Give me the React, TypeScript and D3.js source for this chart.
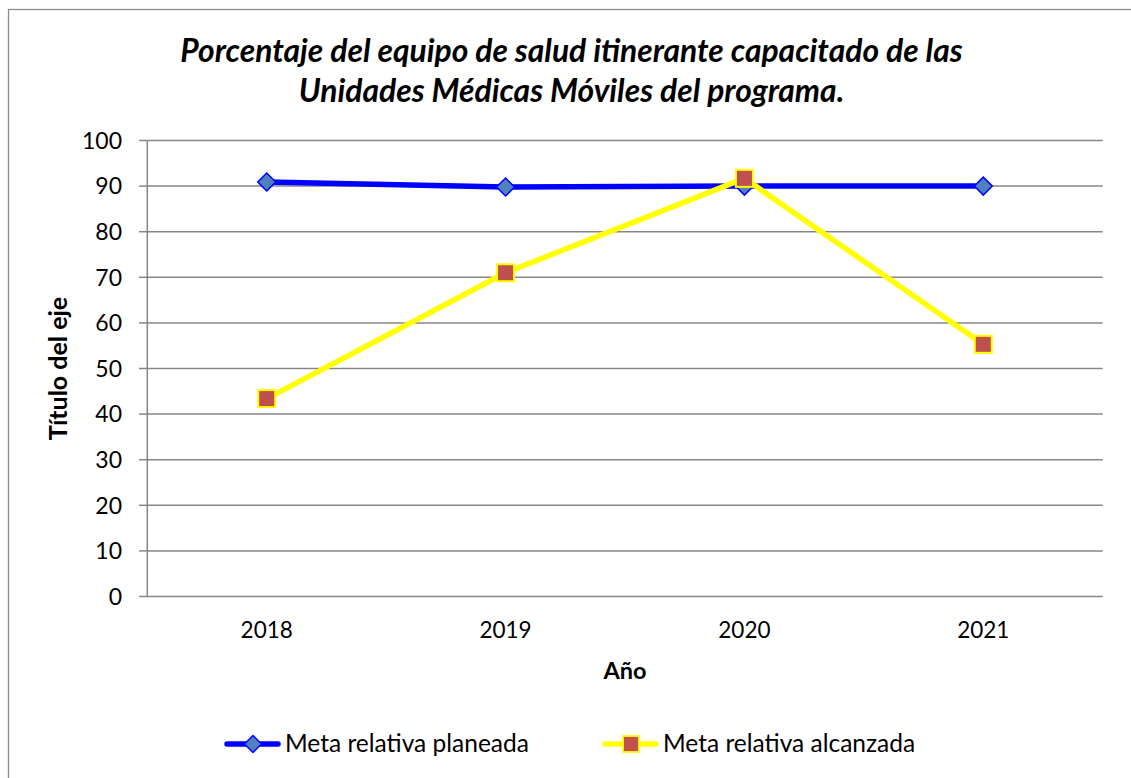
import React from "react";
import * as d3 from "d3";

const categories = ["2018", "2019", "2020", "2021"];
const planeada = [90.9, 89.8, 90.0, 90.0];
const alcanzada = [43.4, 71.0, 91.7, 55.3];
const yTicks = [0, 10, 20, 30, 40, 50, 60, 70, 80, 90, 100];
const titleLines = [
  "Porcentaje del equipo de salud itinerante capacitado de las",
  "Unidades Médicas Móviles del programa.",
];
const seriesNames = ["Meta relativa planeada", "Meta relativa alcanzada"];

const W = 1131;
const H = 778;
const FONT = "Lato, 'Open Sans', sans-serif";

export default function App() {
  const left = 147.3;
  const right = 1102.7;
  const top = 140.5;
  const bottom = 596.5;

  const x = d3.scaleBand<string>().domain(categories).range([left, right]).padding(0);
  const y = d3.scaleLinear().domain([0, 100]).range([bottom, top]);
  const cx = (c: string) => (x(c) as number) + x.bandwidth() / 2;

  const line = d3
    .line<number>()
    .x((_, i) => cx(categories[i]))
    .y((d) => y(d));

  const diamond = (px: number, py: number, r: number) =>
    `M${px},${py - r}L${px + r},${py}L${px},${py + r}L${px - r},${py}Z`;

  const gridColor = "#868686";

  return (
    <div style={{ position: "absolute", left: 0, top: 0 }}>
      <svg width={W} height={H} style={{ display: "block", background: "#fff" }}>
        <rect x={8.5} y={9.5} width={W + 20} height={H + 20} fill="#fff" stroke="#8c8c8c" strokeWidth={1.3} />
        {/* title */}
        {titleLines.map((t, i) => (
          <text
            key={i}
            x={571.5}
            y={62 + i * 40}
            textAnchor="middle"
            fontFamily={FONT}
            fontWeight="bold"
            fontStyle="italic"
            fontSize={31.8}
            fill="#000"
          >
            {t}
          </text>
        ))}
        {/* gridlines */}
        {yTicks.map((t) => (
          <g key={t}>
            <line x1={left} x2={right} y1={y(t)} y2={y(t)} stroke={gridColor} strokeWidth={1.5} />
            <line x1={139} x2={left} y1={y(t)} y2={y(t)} stroke={gridColor} strokeWidth={1.5} />
            <text
              x={122}
              y={y(t)}
              dy="0.36em"
              textAnchor="end"
              fontFamily={FONT}
              fontSize={23}
              fill="#000"
            >
              {t}
            </text>
          </g>
        ))}
        <line x1={left} x2={left} y1={top} y2={bottom} stroke={gridColor} strokeWidth={1.5} />
        {/* x labels */}
        {categories.map((c) => (
          <text key={c} x={cx(c)} y={638} textAnchor="middle" fontFamily={FONT} fontSize={22.5} fill="#000">
            {c}
          </text>
        ))}
        <text x={cx(categories[1]) + x.bandwidth() / 2} y={679} textAnchor="middle" fontFamily={FONT} fontWeight="bold" fontSize={23.5} fill="#000">
          Año
        </text>
        <text
          transform={`translate(67,${(top + bottom) / 2}) rotate(-90)`}
          textAnchor="middle"
          fontFamily={FONT}
          fontWeight="bold"
          fontSize={25}
          fill="#000"
        >
          Título del eje
        </text>
        {/* series lines */}
        <path d={line(planeada) || ""} fill="none" stroke="#0000ff" strokeWidth={5.5} strokeLinejoin="round" strokeLinecap="round" />
        {planeada.map((v, i) => (
          <path key={i} d={diamond(cx(categories[i]), y(v), 9)} fill="#4f81bd" stroke="#0000ff" strokeWidth={1.5} />
        ))}
        <path d={line(alcanzada) || ""} fill="none" stroke="#ffff00" strokeWidth={5.5} strokeLinejoin="round" strokeLinecap="round" />
        {alcanzada.map((v, i) => (
          <rect key={i} x={cx(categories[i]) - 8.5} y={y(v) - 8.5} width={17} height={17} fill="#c0504d" stroke="#ffff00" strokeWidth={2} />
        ))}
        {/* legend */}
        <g>
          <line x1={227} x2={278} y1={744} y2={744} stroke="#0000ff" strokeWidth={5.5} strokeLinecap="round" />
          <path d={diamond(253, 744, 8.5)} fill="#4f81bd" stroke="#0000ff" strokeWidth={1.5} />
          <text x={285} y={752} fontFamily={FONT} fontSize={24.5} fill="#000">
            {seriesNames[0]}
          </text>
          <line x1={605} x2={656} y1={744} y2={744} stroke="#ffff00" strokeWidth={5.5} strokeLinecap="round" />
          <rect x={623} y={736} width={16} height={16} fill="#c0504d" stroke="#ffff00" strokeWidth={1.8} />
          <text x={663} y={752} fontFamily={FONT} fontSize={24.5} fill="#000">
            {seriesNames[1]}
          </text>
        </g>
      </svg>
    </div>
  );
}
